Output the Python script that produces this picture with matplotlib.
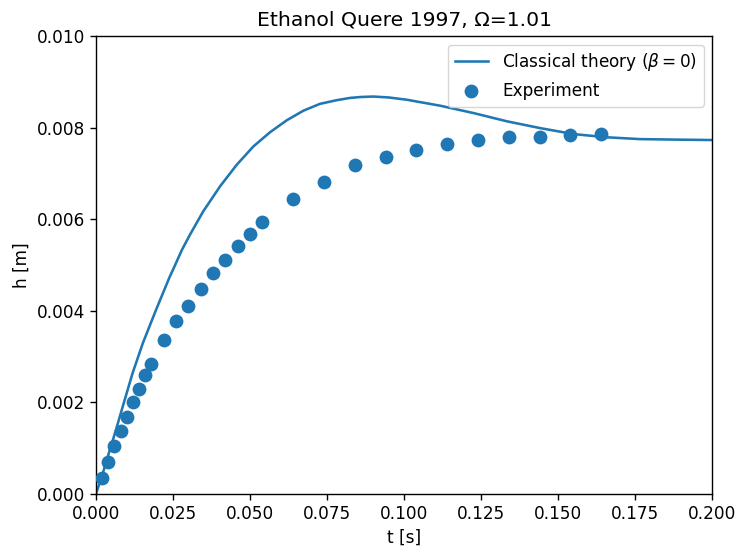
import matplotlib
matplotlib.use("Agg")
import matplotlib.pyplot as plt

t_exp = [0.002, 0.004, 0.006, 0.008, 0.010, 0.012, 0.014, 0.016, 0.018,
         0.022, 0.026, 0.030, 0.034, 0.038, 0.042, 0.046, 0.050, 0.054,
         0.064, 0.074, 0.084, 0.094, 0.104, 0.114, 0.124, 0.134, 0.144,
         0.154, 0.164]
h_exp = [0.00035, 0.00070, 0.00104, 0.00138, 0.00168, 0.00200, 0.00229, 0.00260, 0.00283,
         0.00336, 0.00378, 0.00410, 0.00448, 0.00482, 0.00512, 0.00541, 0.00568, 0.00593,
         0.00644, 0.00681, 0.00718, 0.00737, 0.00752, 0.00765, 0.00773, 0.00779, 0.00780,
         0.00784, 0.00786]

# Classical theory curve
t_th = [0.0, 0.002, 0.004, 0.0065, 0.0087, 0.0119, 0.0152, 0.0195, 0.0238,
        0.0257, 0.0279, 0.0305, 0.0348, 0.0403, 0.0457, 0.0511, 0.0565, 0.0619,
        0.0673, 0.0727, 0.0781, 0.0825, 0.0860, 0.0900, 0.0950, 0.1009, 0.1117,
        0.1225, 0.1333, 0.1442, 0.1550, 0.1658, 0.1766, 0.1874, 0.200]
h_th = [0.0, 0.00040, 0.00085, 0.00140, 0.00191, 0.00264, 0.00329, 0.00402, 0.00472,
        0.00500, 0.00533, 0.00566, 0.00617, 0.00672, 0.00719, 0.00759, 0.00790, 0.00816,
        0.00837, 0.00852, 0.00860, 0.00865, 0.00867, 0.00868, 0.00866, 0.00861, 0.00848,
        0.00832, 0.00814, 0.00799, 0.00786, 0.00779, 0.00775, 0.00774, 0.00773]

fig = plt.figure(figsize=(7.38, 5.47), dpi=100)
ax = fig.add_axes([0.130, 0.097, 0.835, 0.837])
ax.plot(t_th, h_th, color="#1f77b4", lw=1.85, label=r"Classical theory ($\beta=0$)")
ax.scatter(t_exp, h_exp, s=80, color="#1f77b4", label="Experiment", zorder=3)
ax.set_xlim(0, 0.2)
ax.set_ylim(0, 0.01)
ax.set_xlabel("t [s]", fontsize=12.2)
ax.set_ylabel("h [m]", fontsize=12.2)
ax.set_title("Ethanol Quere 1997, Ω=1.01", fontsize=14.7, pad=7.5)
ax.tick_params(labelsize=12.2, length=4.3, width=1.0)
for s in ax.spines.values():
    s.set_linewidth(1.0)
ax.set_xticks([0, 0.025, 0.05, 0.075, 0.1, 0.125, 0.15, 0.175, 0.2])
ax.set_xticklabels(["0.000", "0.025", "0.050", "0.075", "0.100", "0.125", "0.150", "0.175", "0.200"])
ax.set_yticks([0, 0.002, 0.004, 0.006, 0.008, 0.01])
ax.set_yticklabels(["0.000", "0.002", "0.004", "0.006", "0.008", "0.010"])
ax.legend(loc="upper right", fontsize=12.2)
fig.savefig("out.png", dpi=100)
